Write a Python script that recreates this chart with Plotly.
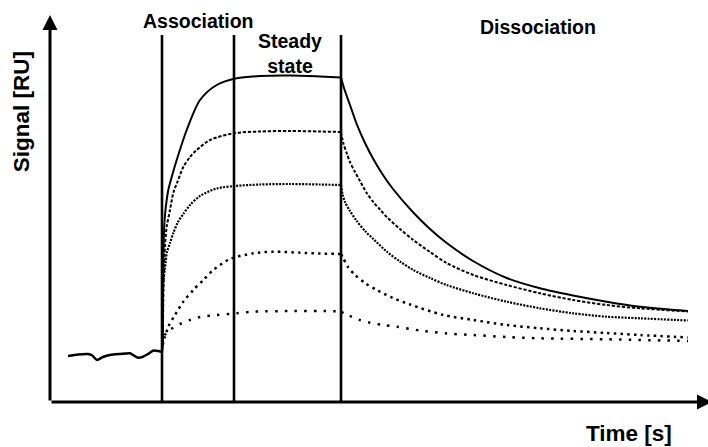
import plotly.graph_objects as go

# Time in seconds, signal in RU
baseline_t = [18, 28, 38, 42, 47, 53, 60, 70, 80, 83, 88, 93, 98, 103, 108, 112]
baseline_s = [46, 47.5, 48, 46.7, 42, 45, 47, 48, 48.7, 47, 44.3, 45.3, 48, 51.3, 51, 50]

injection_start = 112
steady_start = 184
injection_end = 291

# Association phase (per concentration, highest first)
c1_assoc_t = [112, 112.5, 113, 113.7, 115, 118.3, 121.7, 126.7, 136.7, 150, 166.7, 186.7, 210, 240, 270, 291]
c1_assoc_s = [50, 57, 112, 162, 187, 212, 225, 242, 272, 302, 317, 323.7, 326, 326.5, 325.5, 324.5]
c2_assoc_t = [112, 112.5, 113.5, 115, 116.7, 120, 123.5, 127, 133.3, 140, 146.7, 160, 183.3, 210, 240, 270, 291]
c2_assoc_s = [50, 57, 112, 156, 175.3, 192, 210, 219, 235, 245, 252, 262, 268.7, 270.5, 271, 270.5, 270]
c3_assoc_t = [112, 112.5, 113.3, 115, 117, 120, 123.3, 128, 133.3, 140, 150, 166.7, 185, 210, 240, 270, 291]
c3_assoc_s = [50, 57, 120, 134, 150, 159, 169, 180, 188, 197, 206, 213.5, 216, 217.5, 218, 217.5, 217]
c4_assoc_t = [112.5, 115, 118.3, 125, 133.3, 143.3, 153.3, 163.3, 180, 203.3, 223.3, 250, 270, 291]
c4_assoc_s = [57, 65.3, 75.3, 87, 100.3, 112, 122, 132, 143, 148.7, 150.3, 149.3, 148.5, 148]
c5_assoc_t = [112.5, 115, 118.3, 123, 130, 140, 150, 166.7, 186.7, 203.3, 243.3, 270, 291]
c5_assoc_s = [57, 67, 72, 74, 78, 82, 85, 87, 88.7, 90.3, 91, 91, 90.5]

# Dissociation phase
c1_dissoc_t = [291, 294, 300, 306.7, 315, 323.3, 333, 343, 363.3, 380, 396.7, 423, 456.7, 490, 523, 556.7, 590, 638]
c1_dissoc_s = [324.5, 314, 297, 278, 259, 243, 227, 213, 189.5, 173, 159, 141, 124, 113.7, 106.5, 100.3, 95.3, 91]
c2_dissoc_t = [291, 293.3, 297, 300, 305, 310, 316.7, 323.3, 330, 336.7, 350, 363.3, 380, 396.7, 423.3, 456.7, 490, 523, 556.7, 590, 638]
c2_dissoc_s = [270, 259, 248, 240, 230, 221, 209, 200, 192.5, 185, 173, 162, 150, 139, 127, 117, 108.7, 102, 97, 93.7, 90.5]
c3_dissoc_t = [291, 292.5, 295, 300, 306.7, 315, 323.3, 336.7, 350, 363.3, 380, 396.7, 423.3, 456.7, 490, 523.3, 556.7, 590, 638]
c3_dissoc_s = [217, 208, 200, 191, 181, 171, 163, 150.5, 140.5, 132, 124, 117, 108.7, 100.3, 93.7, 88.7, 85.3, 83.7, 81.5]
c4_dissoc_t = [291, 293.3, 298, 305, 315, 326.7, 343, 360, 393.3, 423.3, 456.7, 490, 523.3, 556.7, 590, 638]
c4_dissoc_s = [148, 143.7, 135, 127, 119, 112, 104, 97.5, 87, 82, 77, 73.7, 71, 69, 67, 64.5]
c5_dissoc_t = [291, 295, 301.7, 310, 320, 333, 346.7, 370, 396.7, 423.3, 456.7, 490, 556.7, 638]
c5_dissoc_s = [90.5, 88, 85.3, 82, 79.3, 77, 75.3, 71.5, 68.5, 67, 65, 63.7, 62.7, 61]

phase_labels = ["Association", "Steady<br>state", "Dissociation"]
x_title = "Time [s]"
y_title = "Signal [RU]"

styles = [
    dict(width=2, dash="solid"),
    dict(width=2, dash="3.2px,1.8px"),
    dict(width=2.2, dash="2px,1.3px"),
    dict(width=2.5, dash="2.5px,4.2px"),
    dict(width=2.5, dash="2.5px,7.2px"),
]

curves = [
    (c1_assoc_t, c1_assoc_s, c1_dissoc_t, c1_dissoc_s),
    (c2_assoc_t, c2_assoc_s, c2_dissoc_t, c2_dissoc_s),
    (c3_assoc_t, c3_assoc_s, c3_dissoc_t, c3_dissoc_s),
    (c4_assoc_t, c4_assoc_s, c4_dissoc_t, c4_dissoc_s),
    (c5_assoc_t, c5_assoc_s, c5_dissoc_t, c5_dissoc_s),
]

fig = go.Figure()

fig.add_trace(go.Scatter(x=baseline_t, y=baseline_s, mode="lines",
                         line=dict(color="black", width=2.5, shape="spline", smoothing=0.6),
                         hoverinfo="skip"))

for (at, a_s, dt, d_s), st in zip(curves, styles):
    for tx, sy in ((at, a_s), (dt, d_s)):
        fig.add_trace(go.Scatter(
            x=tx, y=sy, mode="lines",
            line=dict(color="black", width=st["width"], dash=st["dash"],
                      shape="spline", smoothing=0.8),
            hoverinfo="skip"))

# Phase boundaries
for xv in (injection_start, steady_start, injection_end):
    fig.add_shape(type="line", xref="x", yref="y", x0=xv, x1=xv, y0=0, y1=367,
                  line=dict(color="black", width=2.6))

# Axes drawn as arrows
fig.add_annotation(x=0, y=387, ax=0, ay=0, xref="x", yref="y", axref="x", ayref="y",
                   showarrow=True, arrowhead=2, arrowsize=1.0, arrowwidth=3,
                   arrowcolor="black", text="")
fig.add_annotation(x=662, y=0, ax=0, ay=0, xref="x", yref="y", axref="x", ayref="y",
                   showarrow=True, arrowhead=2, arrowsize=1.0, arrowwidth=3,
                   arrowcolor="black", text="")

font_bold = dict(family="Liberation Sans, Arial, sans-serif", color="black", weight="bold")

fig.add_annotation(x=148, y=381, xref="x", yref="y", text=phase_labels[0], showarrow=False,
                   font=dict(size=19.5, **font_bold), xanchor="center", yanchor="middle")
fig.add_annotation(x=240, y=349, xref="x", yref="y", text=phase_labels[1], showarrow=False,
                   font=dict(size=19.5, **font_bold), xanchor="center", yanchor="middle")
fig.add_annotation(x=487.5, y=375, xref="x", yref="y", text=phase_labels[2], showarrow=False,
                   font=dict(size=19.5, **font_bold), xanchor="center", yanchor="middle")
fig.add_annotation(x=0.88, y=-0.111, xref="paper", yref="paper", text=x_title, showarrow=False,
                   font=dict(size=22.5, **font_bold), xanchor="center", yanchor="bottom",
                   borderpad=0)
fig.add_annotation(x=-0.043, y=0.7226, xref="paper", yref="paper", text=y_title, showarrow=False,
                   textangle=-90, font=dict(size=22.5, **font_bold),
                   xanchor="center", yanchor="middle")

fig.update_layout(
    width=708, height=447,
    margin=dict(l=50, r=0, t=0, b=45),
    paper_bgcolor="white", plot_bgcolor="white",
    showlegend=False,
    xaxis=dict(range=[0, 658], visible=False, fixedrange=True),
    yaxis=dict(range=[0, 402], visible=False, fixedrange=True),
)

fig.write_html("out.html")
